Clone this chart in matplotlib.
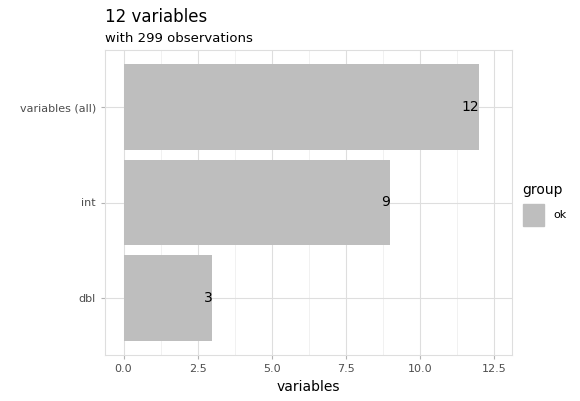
import matplotlib
matplotlib.use("Agg")
import matplotlib.pyplot as plt
import numpy as np

categories = ["dbl", "int", "variables (all)"]
counts = [3, 9, 12]
x_ticks = [0.0, 2.5, 5.0, 7.5, 10.0, 12.5]

fig = plt.figure(figsize=(5.8, 4.01), dpi=100)
ax = fig.add_axes([105 / 580, 46 / 401, 407 / 580, 305 / 401])

ypos = np.arange(len(categories))
ax.barh(ypos, counts, height=0.9, color="#BEBEBE", zorder=2)
for y, c in zip(ypos, counts):
    ax.text(c, y, str(c), ha="right", va="center", fontsize=10, color="black", zorder=3)

ax.set_xlim(-0.625, 13.1)
ax.set_ylim(-0.6, 2.6)
ax.set_xticks(x_ticks)
ax.set_xticklabels([f"{t:.1f}" for t in x_ticks])
ax.set_xticks(np.arange(1.25, 13, 2.5), minor=True)
ax.set_yticks(ypos)
ax.set_yticklabels(categories)
ax.grid(True, which="major", color="#DEDEDE", linewidth=0.8, zorder=0)
ax.grid(True, which="minor", axis="x", color="#EBEBEB", linewidth=0.5, zorder=0)
ax.tick_params(which="both", length=3, color="#B3B3B3", labelsize=8, labelcolor="#4D4D4D")
ax.tick_params(which="minor", length=0)
for s in ax.spines.values():
    s.set_color("#DEDEDE")
ax.set_xlabel("variables", fontsize=10, labelpad=4)

fig.text(105 / 580, 1 - 17 / 401, "12 variables", fontsize=12, va="center")
fig.text(105 / 580, 1 - 39 / 401, "with 299 observations", fontsize=9.5, va="center")

# legend
fig.text(522 / 580, 1 - 190 / 401, "group", fontsize=10, va="center")
fig.patches.append(plt.Rectangle((523 / 580, 1 - 226 / 401), 21 / 580, 22 / 401,
                                 transform=fig.transFigure, color="#BEBEBE"))
fig.text(553 / 580, 1 - 215 / 401, "ok", fontsize=8, va="center")

fig.savefig("out.png", dpi=100)
